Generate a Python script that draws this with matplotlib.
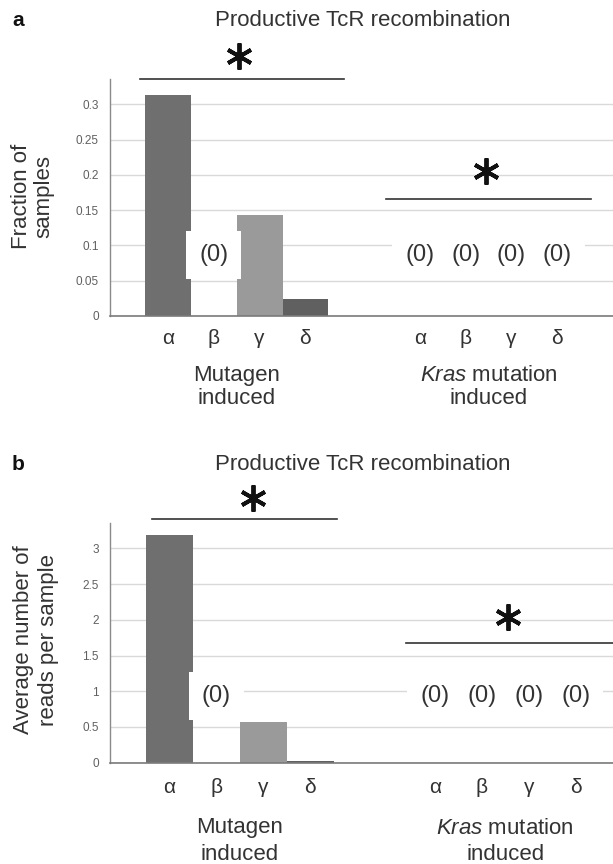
import matplotlib
matplotlib.use("Agg")
import matplotlib.pyplot as plt
import matplotlib.transforms as mtransforms

plt.rcParams['font.family'] = ['Liberation Sans', 'DejaVu Sans']
plt.rcParams['mathtext.fontset'] = 'custom'
plt.rcParams['mathtext.rm'] = 'Liberation Sans'
plt.rcParams['mathtext.it'] = 'Liberation Sans:italic'

# ---------------- data ----------------
categories = ['α', 'β', 'γ', 'δ']
group_line1 = ['Mutagen', '$\\it{Kras}$ mutation']
group_line2 = ['induced', 'induced']
title = 'Productive TcR recombination'

frac_mutagen = [0.314, 0.0, 0.143, 0.024]
frac_kras = [0.0, 0.0, 0.0, 0.0]
reads_mutagen = [3.19, 0.0, 0.565, 0.03]
reads_kras = [0.0, 0.0, 0.0, 0.0]

frac_ticks = [0, 0.05, 0.1, 0.15, 0.2, 0.25, 0.3]
frac_ticklabels = ['0', '0.05', '0.1', '0.15', '0.2', '0.25', '0.3']
reads_ticks = [0, 0.5, 1, 1.5, 2, 2.5, 3]
reads_ticklabels = ['0', '0.5', '1', '1.5', '2', '2.5', '3']

bar_colors = ['#6f6f6f', '#808080', '#9a9a9a', '#606060']

W, H = 613, 864
fig = plt.figure(figsize=(W / 100, H / 100), dpi=100)


def fx(px):
    return px / W


def fy(py):
    return 1 - py / H


panels = [
    dict(letter='a', top=79, bottom=316, slot=45.8, first=168, right_start=5.5,
         ymax=0.336, values=[frac_mutagen, frac_kras], ticks=frac_ticks,
         ticklabels=frac_ticklabels, ylabel='Fraction of\nsamples',
         ylab_x=33, ylab_y=196, title_y=21, zero_y=0.086, xpad=9,
         grp_y=(376, 398), ylab_ls=1.1,
         sig=[(-0.61, 3.84, 0.336, 1.54, 0.368), (4.76, 9.24, 0.166, 6.95, 0.205)]),
    dict(letter='b', top=522.7, bottom=762.7, slot=47.0, first=169.2, right_start=5.65,
         ymax=3.36, values=[reads_mutagen, reads_kras], ticks=reads_ticks,
         ticklabels=reads_ticklabels, ylabel='Average number of\nreads per sample',
         ylab_x=36, ylab_y=640, title_y=464, zero_y=0.93, xpad=11,
         grp_y=(828, 855), ylab_ls=1.2,
         sig=[(-0.37, 3.56, 3.408, 1.78, 3.70), (5.04, 9.6, 1.68, 7.21, 2.04)]),
]

for p in panels:
    left_px, right_px = 110, 613
    ax = fig.add_axes([fx(left_px), fy(p['bottom']), fx(right_px - left_px),
                       (p['bottom'] - p['top']) / H])
    x0 = (left_px - p['first']) / p['slot']
    x1 = (right_px - p['first']) / p['slot']
    ax.set_xlim(x0, x1)
    ax.set_ylim(0, p['ymax'])

    group_pos = [list(range(4)), [p['right_start'] + i for i in range(4)]]
    for g, vals in enumerate(p['values']):
        ax.bar(group_pos[g], vals, width=1.0, color=bar_colors, zorder=2,
               linewidth=0)
        for xpos, v in zip(group_pos[g], vals):
            if v == 0:
                ax.text(xpos, p['zero_y'], '(0)', fontsize=17, ha='center',
                        va='center', color='#333333', zorder=4,
                        bbox=dict(boxstyle='square,pad=0.55', fc='white',
                                  ec='none'))

    allpos = group_pos[0] + group_pos[1]
    ax.set_xticks(allpos)
    ax.set_xticklabels(categories * 2, fontsize=15, color='#333333')
    ax.tick_params(axis='x', length=0, pad=p['xpad'])
    ax.set_yticks(p['ticks'])
    ax.set_yticklabels(p['ticklabels'], fontsize=8.5, color='#606060')
    ax.tick_params(axis='y', length=0, pad=8)
    ax.grid(axis='y', color='#d9d9d9', linewidth=1, zorder=0)
    ax.set_axisbelow(True)
    for s in ['top', 'right']:
        ax.spines[s].set_visible(False)
    ax.spines['left'].set_color('#8a8a8a')
    ax.spines['bottom'].set_color('#7a7a7a')
    ax.spines['left'].set_linewidth(1)
    ax.spines['bottom'].set_linewidth(1.2)

    ax.set_ylabel(p['ylabel'], fontsize=16, color='#333333',
                  linespacing=p['ylab_ls'], ha='center', va='center')
    ax.yaxis.set_label_coords((p['ylab_x'] - left_px) / (right_px - left_px),
                              (p['bottom'] - p['ylab_y']) / (p['bottom'] - p['top']))

    ax.set_title(title, fontsize=16, color='#333333', pad=0,
                 x=(363 - left_px) / (right_px - left_px),
                 y=(p['bottom'] - p['title_y']) / (p['bottom'] - p['top']),
                 va='center')
    fig.text(fx(12), fy(p['title_y']), p['letter'], fontsize=15,
             fontweight='bold', ha='left', va='center', color='#111111')

    trans = mtransforms.blended_transform_factory(ax.transData, fig.transFigure)
    for g in range(2):
        cx = sum(group_pos[g]) / 4
        ax.text(cx, fy(p['grp_y'][0]), group_line1[g], transform=trans,
                fontsize=16, ha='center', va='center', color='#333333')
        ax.text(cx, fy(p['grp_y'][1]), group_line2[g], transform=trans,
                fontsize=16, ha='center', va='center', color='#333333')

    for (lx0, lx1, ly, sx, sy) in p['sig']:
        ax.plot([lx0, lx1], [ly, ly], color='#333333', lw=1.2, clip_on=False,
                zorder=5)
        ax.plot([sx], [sy], marker=(6, 2, 0), markersize=19, mew=2.8,
                color='#111111', clip_on=False, zorder=5)

fig.savefig('out.png', dpi=100)
